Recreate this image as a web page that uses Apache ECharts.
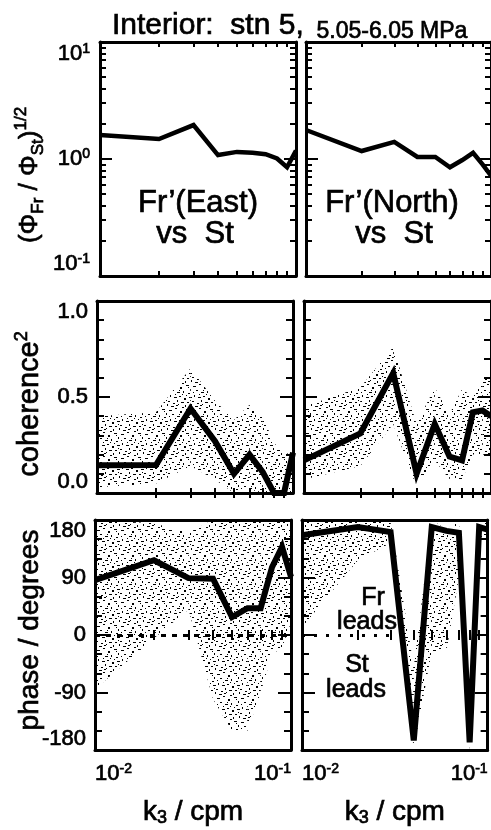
<!DOCTYPE html>
<html>
<head>
<meta charset="utf-8">
<script src="https://cdn.jsdelivr.net/npm/echarts@6/dist/echarts.min.js"></script>
<style>
  html, body { margin: 0; padding: 0; background: #fff; }
  #chart { width: 491px; height: 830px; }
</style>
</head>
<body>
<div id="chart"></div>
<script>
// Vertical wavenumber of each spectral estimate (cpm)
const wavenumber = [0.01, 0.02, 0.03, 0.04, 0.05, 0.06, 0.07, 0.08, 0.09, 0.10];

// Amplitude ratio (Phi_Fr / Phi_St)^(1/2)
const ratioEast  = [1.60, 1.48, 1.95, 1.08, 1.15, 1.13, 1.10, 1.01, 0.85, 1.18];
const ratioNorth = [1.77, 1.17, 1.40, 1.04, 1.04, 0.85, 0.98, 1.13, 0.90, 0.72];

// Squared coherence with its confidence band
const cohEast      = [0.145, 0.146, 0.44, 0.27, 0.10, 0.20, 0.11, 0.00, 0.00, 0.21];
const cohEastLow   = [0.03, 0.05, 0.14, 0.07, 0.00, 0.02, 0.00, 0.00, 0.00, 0.00];
const cohEastHigh  = [0.40, 0.42, 0.65, 0.48, 0.38, 0.46, 0.40, 0.26, 0.21, 0.20];
const cohNorth     = [0.17, 0.31, 0.625, 0.10, 0.36, 0.19, 0.17, 0.42, 0.43, 0.40];
const cohNorthLow  = [0.07, 0.14, 0.36, 0.03, 0.17, 0.07, 0.07, 0.20, 0.20, 0.20];
const cohNorthHigh = [0.45, 0.55, 0.76, 0.36, 0.55, 0.41, 0.54, 0.50, 0.60, 0.60];

// Phase (degrees) with its confidence band
const phaseEast       = [86, 117, 89, 88, 28, 42, 42, 106, 138, 91];
const phaseEastLow    = [-85, -5, 40, -100, -150, -150, -90, -30, -20, 20];
const phaseEastHigh   = [180, 175, 160, 180, 180, 180, 180, 180, 180, 180];
const phaseNorth      = [156, 169, 161, -165, 169, 163, 160, -168, 169, 165];
const phaseNorthLow   = [12, 117, 144, -180, -25, -25, 90, -180, 150, 150];
const phaseNorthHigh  = [180, 180, 180, -50, 180, 165, 180, -90, 180, 180];

// Tick positions
const xDecades     = [0.01, 0.1];
const xMinor       = [0.02, 0.03, 0.04, 0.05, 0.06, 0.07, 0.08, 0.09];
const ratioDecades = [0.1, 1, 10];
const ratioMinor   = [0.2, 0.3, 0.4, 0.5, 0.6, 0.7, 0.8, 0.9, 2, 3, 4, 5, 6, 7, 8, 9];

const FONT = '"Liberation Sans", Arial, Helvetica, sans-serif';
const BLACK = '#000';
// a thin outline gives the glyphs the heavier weight of the printed figure
const INK = { textBorderColor: BLACK, textBorderWidth: 0.7 };

// Stipple texture for the confidence regions
const stipple = (() => {
  const specks = [
    [1,2,3,1],[7,0,2,1],[12,3,2,2],[18,1,3,1],[22,5,1,2],[4,6,2,1],[9,8,3,1],[15,7,1,2],
    [20,9,2,1],[2,11,1,2],[6,13,3,1],[11,12,2,1],[16,14,2,2],[21,13,3,1],[0,17,2,1],[5,19,2,1],
    [9,16,1,2],[13,18,3,1],[19,18,2,1],[23,20,1,2],[3,22,3,1],[8,21,2,1],[14,23,2,1],[17,21,1,2],
    [11,6,1,1],[20,3,1,1],[1,8,1,1],[7,10,1,1],[14,10,1,1],[22,16,1,1],[10,20,1,1],[18,11,1,1]
  ];
  const c = document.createElement('canvas');
  c.width = 24; c.height = 24;
  const g = c.getContext('2d');
  g.fillStyle = '#000';
  specks.forEach(s => g.fillRect(s[0], s[1], s[2], s[3]));
  return c;
})();

const expRich = {
  b: Object.assign({ fontSize: 22, fontFamily: FONT, color: BLACK, lineHeight: 24 }, INK),
  s: Object.assign({ fontSize: 14, fontFamily: FONT, color: BLACK, verticalAlign: 'top', lineHeight: 12 }, INK)
};
const expLabel = v => '{b|10}{s|' + Math.round(Math.log10(v)) + '}';

// Panel geometry: three rows, two columns
const PANEL_W = 196;
const rows = [
  { top: 42,  height: 234, lefts: [100, 306] },
  { top: 301, height: 192, lefts: [97, 304] },
  { top: 520, height: 230, lefts: [95, 302] }
];

const grid = [], xAxis = [], yAxis = [], series = [];
const frameLine = { show: true, onZero: false, lineStyle: { color: BLACK, width: 3 } };
const tickStyle = { color: BLACK, width: 2 };

function addXAxes(gi, withLabels) {
  let mainIdx = -1;
  ['bottom', 'top'].forEach(pos => {
    const base = { type: 'log', logBase: 10, gridIndex: gi, min: 0.01, max: 0.1, position: pos,
                   splitLine: { show: false } };
    const labelled = withLabels && pos === 'bottom';
    if (pos === 'bottom') mainIdx = xAxis.length;
    xAxis.push(Object.assign({}, base, {
      axisLine: frameLine,
      axisTick: { show: true, inside: true, length: 11, lineStyle: tickStyle, customValues: xDecades },
      axisLabel: labelled ? {
        show: true, customValues: xDecades, margin: 12, formatter: expLabel, rich: expRich,
        alignMinLabel: 'left', alignMaxLabel: 'right'
      } : { show: false },
      name: labelled ? '{k|k}{sub|3}{k| / cpm}' : '',
      nameLocation: 'middle', nameGap: 47,
      nameTextStyle: {
        rich: {
          k: Object.assign({ fontSize: 28, fontFamily: FONT, color: BLACK, lineHeight: 30 }, INK),
          sub: Object.assign({ fontSize: 18, fontFamily: FONT, color: BLACK, verticalAlign: 'bottom', lineHeight: 16 }, INK)
        }
      }
    }));
    xAxis.push(Object.assign({}, base, {
      axisLine: { show: false },
      axisTick: { show: true, inside: true, length: 5, lineStyle: tickStyle, customValues: xMinor },
      axisLabel: { show: false }
    }));
  });
  return mainIdx;
}

function addLogYAxes(gi, withLabels) {
  let mainIdx = -1;
  ['left', 'right'].forEach(pos => {
    const base = { type: 'log', logBase: 10, gridIndex: gi, min: 0.1, max: 10, position: pos,
                   splitLine: { show: false } };
    const labelled = withLabels && pos === 'left';
    if (pos === 'left') mainIdx = yAxis.length;
    yAxis.push(Object.assign({}, base, {
      axisLine: frameLine,
      axisTick: { show: true, inside: true, length: 12, lineStyle: tickStyle, customValues: ratioDecades },
      axisLabel: labelled ? {
        show: true, customValues: ratioDecades, margin: 10, formatter: expLabel, rich: expRich,
        verticalAlignMinLabel: 'bottom', verticalAlignMaxLabel: 'top'
      } : { show: false }
    }));
    yAxis.push(Object.assign({}, base, {
      axisLine: { show: false },
      axisTick: { show: true, inside: true, length: 6, lineStyle: tickStyle, customValues: ratioMinor },
      axisLabel: { show: false }
    }));
  });
  return mainIdx;
}

function addLinearYAxes(gi, withLabels, min, max, interval, minorSplit, digits) {
  let mainIdx = -1;
  ['left', 'right'].forEach(pos => {
    const labelled = withLabels && pos === 'left';
    if (pos === 'left') mainIdx = yAxis.length;
    yAxis.push({
      type: 'value', gridIndex: gi, min, max, interval, position: pos,
      splitLine: { show: false },
      axisLine: frameLine,
      axisTick: { show: true, inside: true, length: 13, lineStyle: tickStyle },
      minorTick: { show: true, splitNumber: minorSplit, length: 7, lineStyle: tickStyle },
      axisLabel: labelled ? Object.assign({
        show: true, margin: 9, color: BLACK, fontSize: 22, fontFamily: FONT,
        formatter: v => v.toFixed(digits),
        verticalAlignMinLabel: 'bottom', verticalAlignMaxLabel: 'top'
      }, INK) : { show: false }
    });
  });
  return mainIdx;
}

const pairs = ys => wavenumber.map((k, i) => [k, ys[i]]);

// Confidence region: stippled polygon between the lower and upper bound,
// built piece by piece between neighbouring estimates
function addBand(xi, yi, low, high) {
  series.push({
    type: 'custom', xAxisIndex: xi, yAxisIndex: yi, silent: true, clip: true, z: 1,
    data: wavenumber.map((k, i) => [k, low[i], high[i]]),
    encode: { x: 0, y: [1, 2] },
    renderItem: (params, api) => {
      const i = params.dataIndexInside;
      if (i >= wavenumber.length - 1) return null;
      const a = [api.value(0, i), api.value(1, i), api.value(2, i)];
      const b = [api.value(0, i + 1), api.value(1, i + 1), api.value(2, i + 1)];
      return {
        type: 'polygon',
        shape: { points: [api.coord([a[0], a[1]]), api.coord([b[0], b[1]]),
                          api.coord([b[0], b[2]]), api.coord([a[0], a[2]])] },
        style: { fill: { image: stipple, repeat: 'repeat' }, stroke: null }
      };
    }
  });
}

function addCurve(xi, yi, values, width, extra) {
  series.push(Object.assign({
    type: 'line', xAxisIndex: xi, yAxisIndex: yi, symbol: 'none', silent: true,
    lineStyle: { color: BLACK, width: width, join: 'miter', cap: 'butt' },
    data: pairs(values), z: 3
  }, extra || {}));
}

const zeroLine = (to, dash) => ({
  silent: true, symbol: ['none', 'none'], label: { show: false },
  lineStyle: { color: BLACK, width: 3, type: dash },
  data: [[{ coord: [0.01, 0] }, { coord: [to, 0] }]]
});

rows.forEach((row, r) => {
  row.lefts.forEach((left, c) => {
    const gi = grid.length;
    grid.push({ left: left, top: row.top, width: PANEL_W, height: row.height, containLabel: false });
    const xi = addXAxes(gi, r === 2);
    if (r === 0) {
      const yi = addLogYAxes(gi, c === 0);
      addCurve(xi, yi, c === 0 ? ratioEast : ratioNorth, 4.5);
    } else if (r === 1) {
      const yi = addLinearYAxes(gi, c === 0, 0, 1, 0.5, 5, 1);
      addBand(xi, yi, c === 0 ? cohEastLow : cohNorthLow, c === 0 ? cohEastHigh : cohNorthHigh);
      addCurve(xi, yi, c === 0 ? cohEast : cohNorth, 6);
    } else {
      const yi = addLinearYAxes(gi, c === 0, -180, 180, 90, 3, 0);
      addBand(xi, yi, c === 0 ? phaseEastLow : phaseNorthLow, c === 0 ? phaseEastHigh : phaseNorthHigh);
      addCurve(xi, yi, c === 0 ? phaseEast : phaseNorth, 6, {
        markLine: c === 0 ? zeroLine(0.1, [5, 6]) : zeroLine(0.03, [3, 9])
      });
    }
  });
});

// Free text: panel annotations and the rotated axis titles (zrender text style)
const text = (x, y, str, size, extra) => Object.assign({
  type: 'text', x: x, y: y, silent: true, z: 10,
  style: Object.assign({
    text: str, fill: BLACK, font: size + 'px ' + FONT, stroke: BLACK, lineWidth: 0.7,
    align: 'center', verticalAlign: 'middle'
  }, (extra && extra.style) || {})
}, extra && extra.el || {});

const tok = o => Object.assign({ fontFamily: FONT, fill: BLACK, stroke: BLACK, lineWidth: 0.7 }, o);

const graphic = [
  text(198, 203, 'Fr\u2019(East)', 31),
  text(195, 234, 'vs  St', 31),
  text(392, 203, 'Fr\u2019(North)', 31),
  text(394, 234, 'vs  St', 31),
  text(373, 598, 'Fr', 25),
  text(367, 622, 'leads', 25),
  text(357, 665, 'St', 25),
  text(356, 690, 'leads', 25),
  text(30, 175, '{m|(\u03A6}{d|Fr}{m| / \u03A6}{d|St}{m|)}{u|1/2}', 26, {
    el: { rotation: Math.PI / 2 },
    style: {
      rich: {
        m: tok({ fontSize: 26, lineHeight: 34 }),
        d: tok({ fontSize: 17, verticalAlign: 'bottom', lineHeight: 18 }),
        u: tok({ fontSize: 17, verticalAlign: 'top', lineHeight: 16 })
      }
    }
  }),
  text(30, 404, '{m|coherence}{u|2}', 29, {
    el: { rotation: Math.PI / 2 },
    style: {
      rich: {
        m: tok({ fontSize: 29, lineHeight: 34 }),
        u: tok({ fontSize: 18, verticalAlign: 'top', lineHeight: 16 })
      }
    }
  }),
  text(30, 630, 'phase / degrees', 28, { el: { rotation: Math.PI / 2 } })
];

const chart = echarts.init(document.getElementById('chart'), null, { renderer: 'canvas' });
chart.setOption({
  backgroundColor: '#fff',
  animation: false,
  title: {
    text: '{a|Interior:  stn 5,}{b|  5.05-6.05 MPa}',
    left: 107, top: 4,
    textStyle: {
      fontWeight: 'normal',
      rich: {
        a: Object.assign({ fontSize: 30, fontFamily: FONT, fontWeight: 'normal', color: BLACK, lineHeight: 34 }, INK),
        b: Object.assign({ fontSize: 23, fontFamily: FONT, fontWeight: 'normal', color: BLACK, verticalAlign: 'bottom', lineHeight: 28 }, INK)
      }
    }
  },
  grid, xAxis, yAxis, series, graphic
});
</script>
</body>
</html>
